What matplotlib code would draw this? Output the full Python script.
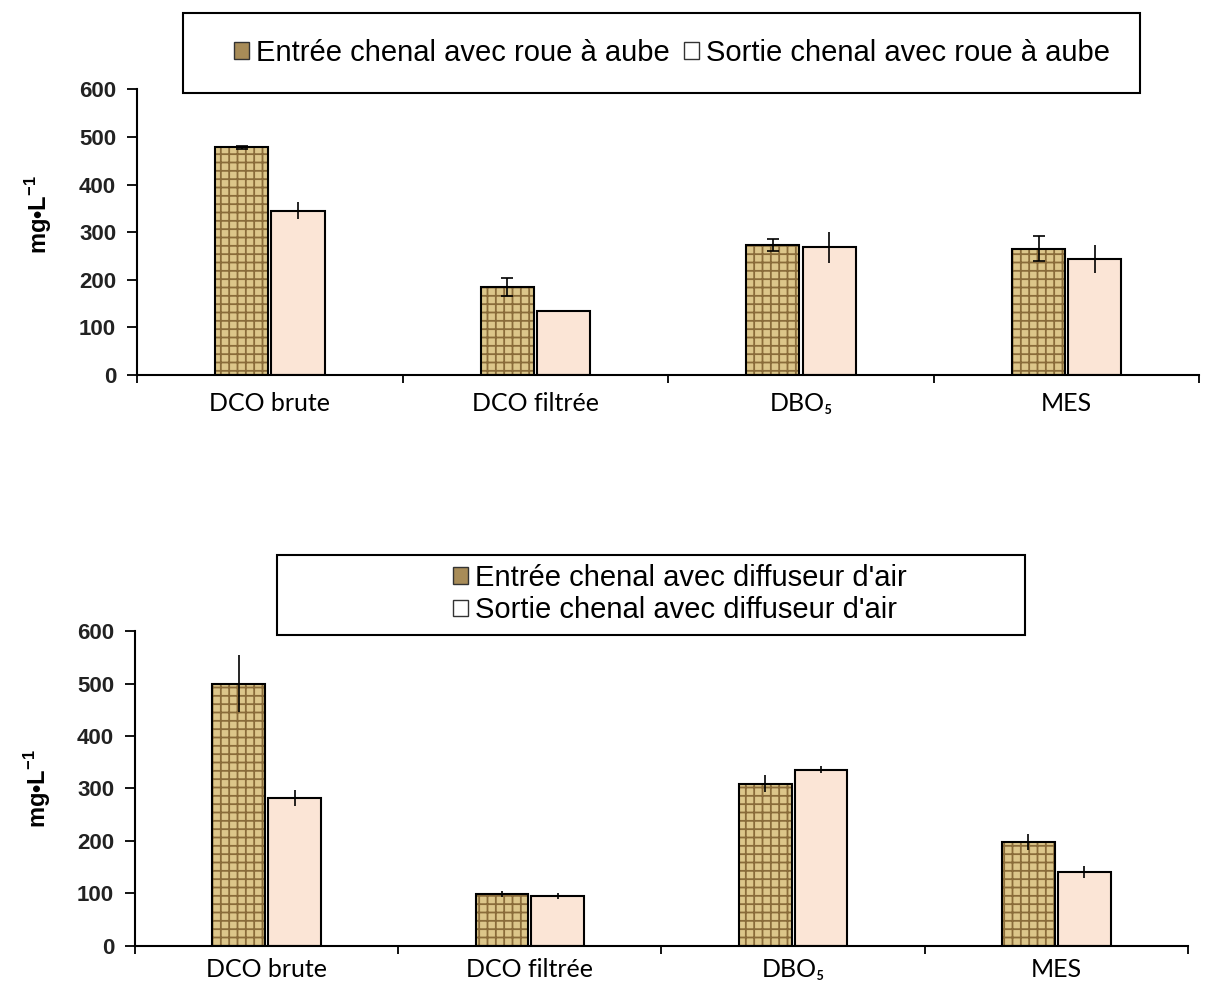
import numpy as np
import matplotlib.pyplot as plt
from matplotlib.patches import Patch, Rectangle

plt.rcParams['mathtext.fontset'] = 'custom'
plt.rcParams['mathtext.rm'] = 'Liberation Sans'
plt.rcParams['mathtext.bf'] = 'Liberation Sans:bold'
plt.rcParams['hatch.linewidth'] = 1.3

# Data (mg/L)
categories = ["DCO brute", "DCO filtrée", "DBO₅", "MES"]

roue_entree = [478, 185, 273, 265]
roue_entree_err = [3, 19, 12, 26]
roue_sortie = [345, 134, 268, 244]
roue_sortie_err = [18, 0, 33, 29]

diff_entree = [500, 99, 309, 198]
diff_entree_err = [55, 6, 16, 16]
diff_sortie = [282, 95, 336, 141]
diff_sortie_err = [15, 6, 7, 12]

leg_roue = ["Entrée chenal avec roue à aube", "Sortie chenal avec roue à aube"]
leg_diff = ["Entrée chenal avec diffuseur d'air", "Sortie chenal avec diffuseur d'air"]

BURLAP = '#dcc68a'
WEAVE = '#8a6c3a'
PEACH = '#fbe5d6'
legend_font = {'family': ['Liberation Sans Narrow', 'Liberation Sans'], 'size': 21}

fig = plt.figure(figsize=(12.06, 9.92), dpi=100)
ax1 = fig.add_axes([0.1136, 0.622, 0.881, 0.288])
ax2 = fig.add_axes([0.112, 0.0464, 0.873, 0.3175])


def draw(ax, entree, e_err, sortie, s_err, caps, xpad, ylab_y):
    x = np.arange(len(categories)) + 0.5
    w = 0.2
    xe = x - 0.106
    xs = x + 0.106
    # burlap-like fill for the inlet bars
    ax.bar(xe, entree, w, color=BURLAP, edgecolor=WEAVE, hatch='++', linewidth=0)
    ax.bar(xe, entree, w, fill=False, edgecolor='black', linewidth=1.5)
    ax.bar(xs, sortie, w, color=PEACH, edgecolor='black', linewidth=1.5)
    ax.errorbar(xe, entree, yerr=e_err, fmt='none', ecolor='black',
                elinewidth=1.2, capsize=caps, capthick=1.2)
    ax.errorbar(xs, sortie, yerr=s_err, fmt='none', ecolor='black',
                elinewidth=1.2, capsize=0)

    ax.set_xlim(0, len(categories))
    ax.set_ylim(0, 600)
    ax.set_yticks(range(0, 601, 100))
    ax.set_xticks(np.arange(len(categories) + 1), minor=False)
    ax.set_xticklabels([])
    ax.set_xticks(x, minor=True)
    ax.set_xticklabels(categories, minor=True,
                       fontdict={'family': ['Lato', 'DejaVu Sans'], 'size': 18})
    ax.tick_params(axis='x', which='minor', length=0, pad=xpad)
    ax.tick_params(axis='x', which='major', direction='out', length=6, width=1.3)
    ax.tick_params(axis='y', direction='out', length=7, width=1.3, pad=8)
    for lab in ax.get_yticklabels():
        lab.set_fontweight('bold')
        lab.set_fontsize(16)
        lab.set_family('Liberation Sans')
        lab.set_color('#222222')
    for s in ['top', 'right']:
        ax.spines[s].set_visible(False)
    for s in ['left', 'bottom']:
        ax.spines[s].set_linewidth(1.5)
    ax.set_ylabel(r'mg•L$^{\mathbf{-1}}$', fontsize=17, fontweight='bold',
                  family='Liberation Sans')
    ax.yaxis.set_label_coords(-0.078, ylab_y)


draw(ax1, roue_entree, roue_entree_err, roue_sortie, roue_sortie_err, 4.5, 12, 0.56)
draw(ax2, diff_entree, diff_entree_err, diff_sortie, diff_sortie_err, 0, 9, 0.5)

handles = [Patch(facecolor='#a88c58', edgecolor='#333333', linewidth=1),
           Patch(facecolor='white', edgecolor='#333333', linewidth=1)]

# legend frames drawn as figure rectangles
fig.patches.append(Rectangle((183 / 1206, 1 - 93 / 992), (1140 - 183) / 1206, 80 / 992,
                             transform=fig.transFigure, fill=False,
                             edgecolor='black', linewidth=1.5))
fig.patches.append(Rectangle((277 / 1206, 1 - 635 / 992), (1025 - 277) / 1206, 80 / 992,
                             transform=fig.transFigure, fill=False,
                             edgecolor='black', linewidth=1.5))

fig.legend(handles, leg_roue, loc='center', bbox_to_anchor=(672 / 1206, 1 - 53 / 992),
           ncol=2, frameon=False, prop=legend_font, handlelength=0.5,
           handleheight=0.5, handletextpad=0.25, columnspacing=0.5)
fig.legend(handles, leg_diff, loc='center', bbox_to_anchor=(680 / 1206, 1 - 594 / 992),
           ncol=1, frameon=False, prop=legend_font, handlelength=0.5,
           handleheight=0.5, handletextpad=0.25, labelspacing=0.15)

fig.savefig('out.png', dpi=100)
